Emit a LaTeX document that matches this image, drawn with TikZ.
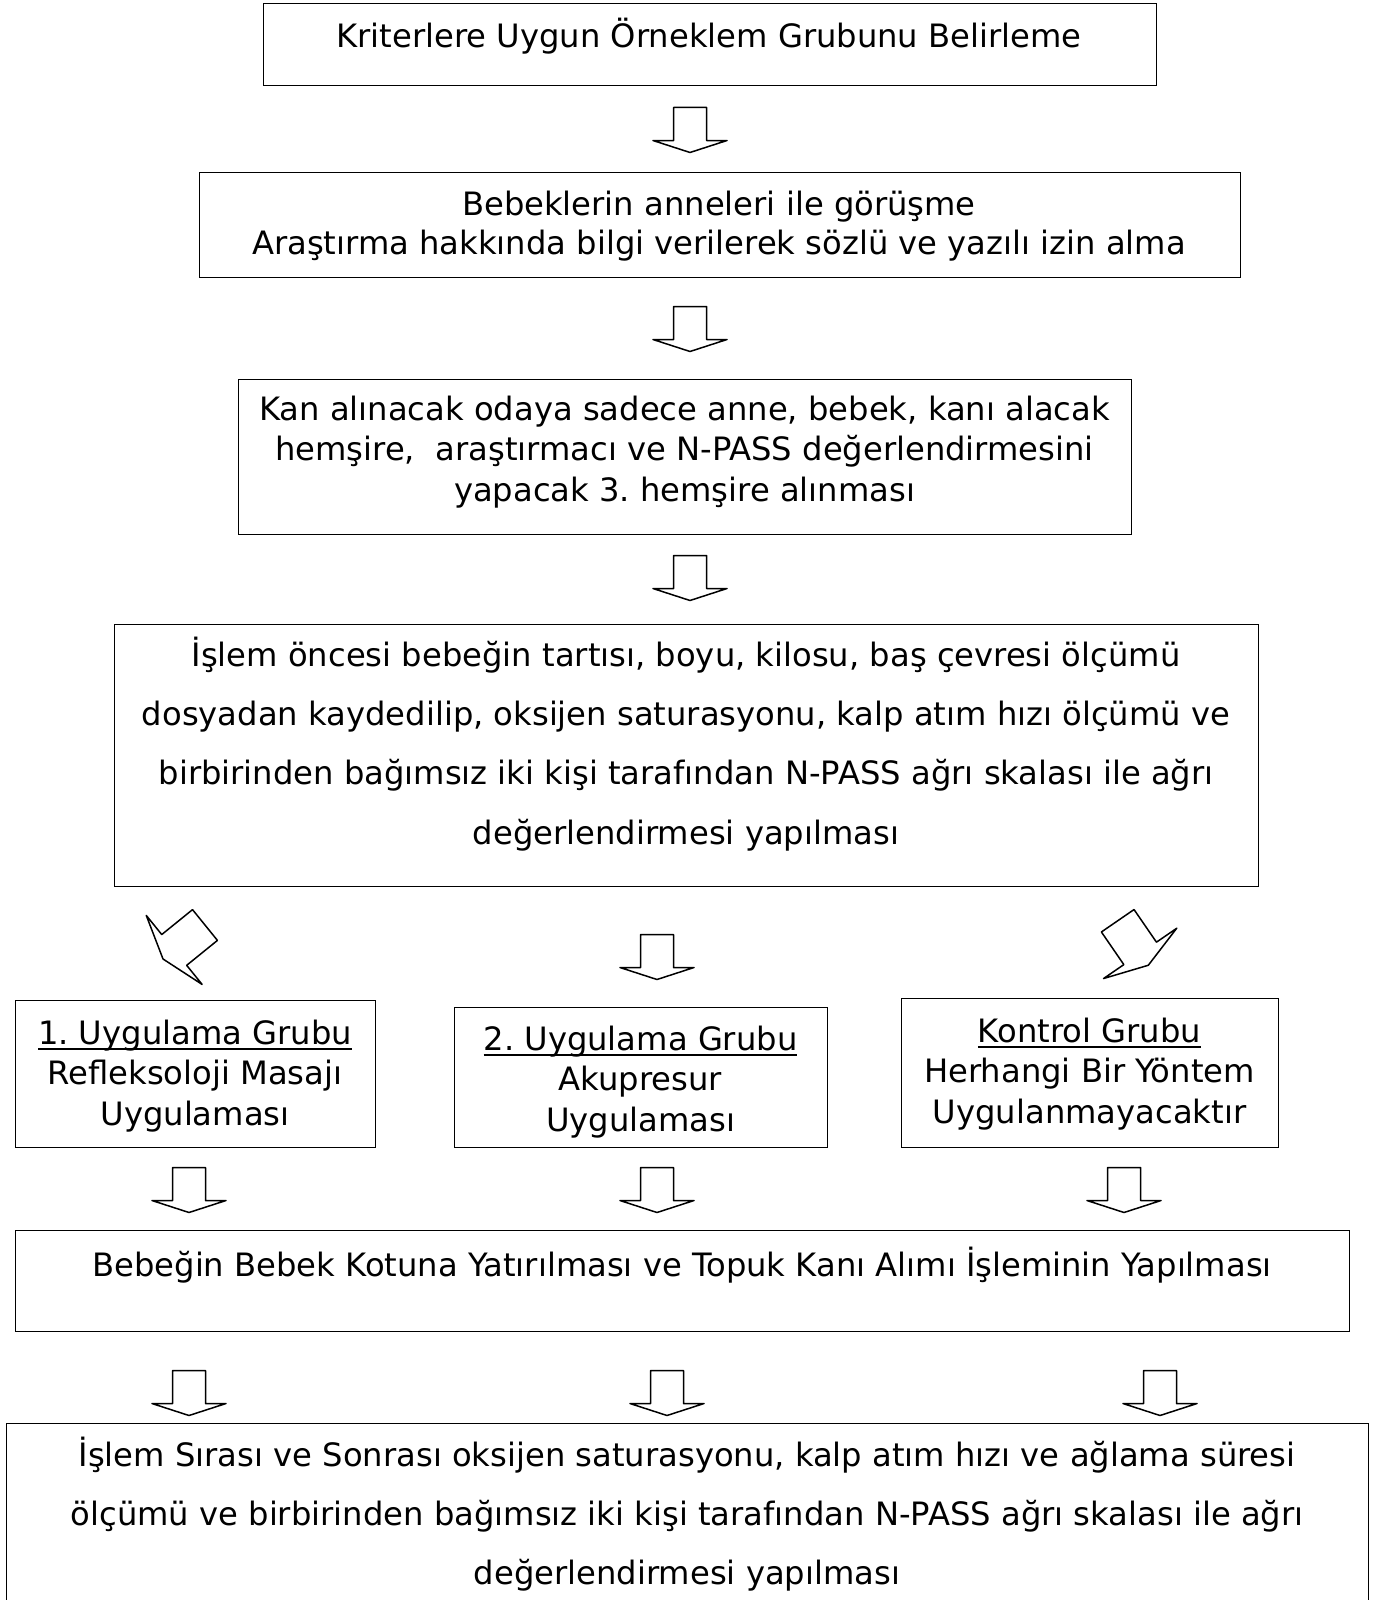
\documentclass[tikz,border=0pt]{standalone}
\usepackage{fontspec}
\setmainfont{DejaVu Sans}
\frenchspacing
\newcommand\ulbox[1]{\setbox0\hbox{#1}\rlap{\rule[-2.6pt]{\wd0}{0.7pt}}\box0}
\begin{document}
\begin{tikzpicture}[x=0.5pt,y=-0.5pt,
  box/.style={draw=black, line width=0.7pt, rectangle, inner sep=0pt, anchor=north west},
  txt/.style={align=center, inner sep=0pt, font=\fontsize{16.1}{20.2}\selectfont},
  wide/.style={align=center, inner sep=0pt, font=\fontsize{16.1}{29.6}\selectfont},
  arrowline/.style={draw=black, line width=0.75pt, line join=round, fill=white},
  blockarrow/.pic={\path[arrowline] (-16.5,-22.5) -- (16.5,-22.5) -- (16.5,10.5) -- (37,10.5) -- (0,22.5) -- (-37,10.5) -- (-16.5,10.5) -- cycle;}]
\useasboundingbox (0,0) rectangle (1379,1600);
\clip (0,0) rectangle (1379,1600);
% boxes
\node[box, minimum width=893*0.5pt, minimum height=82*0.5pt] (b1) at (263,3) {};
\node[box, minimum width=1041*0.5pt, minimum height=105*0.5pt] (b2) at (199,172) {};
\node[box, minimum width=893*0.5pt, minimum height=155*0.5pt] (b3) at (238,379) {};
\node[box, minimum width=1144*0.5pt, minimum height=262*0.5pt] (b4) at (114,624) {};
\node[box, minimum width=360*0.5pt, minimum height=147*0.5pt] (b5) at (15,1000) {};
\node[box, minimum width=373*0.5pt, minimum height=140*0.5pt] (b6) at (454,1007) {};
\node[box, minimum width=377*0.5pt, minimum height=149*0.5pt] (b7) at (901,998) {};
\node[box, minimum width=1334*0.5pt, minimum height=101*0.5pt] (b8) at (15,1230) {};
\node[box, minimum width=1362*0.5pt, minimum height=200*0.5pt] (b9) at (6,1423) {};
% texts
\node[txt] (t1) at (709,36) {Kriterlere Uygun Örneklem Grubunu Belirleme};
\node[txt, font=\fontsize{16.1}{19.4}\selectfont] (t2) at (719,226) {Bebeklerin anneleri ile görüşme\\Araştırma hakkında bilgi verilerek sözlü ve yazılı izin alma};
\node[txt, font=\fontsize{16.1}{20.4}\selectfont] (t3) at (684.5,452) {Kan alınacak odaya sadece anne, bebek, kanı alacak\\hemşire,~ araştırmacı ve N-PASS değerlendirmesini\\yapacak 3. hemşire alınması};
\node[wide] (t4) at (686,744) {İşlem öncesi bebeğin tartısı, boyu, kilosu, baş çevresi ölçümü\\dosyadan kaydedilip, oksijen saturasyonu, kalp atım hızı ölçümü ve\\birbirinden bağımsız iki kişi tarafından N-PASS ağrı skalası ile ağrı\\değerlendirmesi yapılması};
\node[txt] (t5) at (195,1076) {\ulbox{1. Uygulama Grubu}\\Refleksoloji Masajı\\Uygulaması};
\node[txt] (t6) at (640.5,1082) {\ulbox{2. Uygulama Grubu}\\Akupresur\\Uygulaması};
\node[txt] (t7) at (1089.5,1074) {\ulbox{Kontrol Grubu}\\Herhangi Bir Yöntem\\Uygulanmayacaktır};
\node[txt] (t8) at (682,1265) {Bebeğin Bebek Kotuna Yatırılması ve Topuk Kanı Alımı İşleminin Yapılması};
\node[wide] (t9) at (687,1514) {İşlem Sırası ve Sonrası oksijen saturasyonu, kalp atım hızı ve ağlama süresi\\ölçümü ve birbirinden bağımsız iki kişi tarafından N-PASS ağrı skalası ile ağrı\\değerlendirmesi yapılması};
% block arrows
\pic at (690,130) {blockarrow};
\pic at (690,329) {blockarrow};
\pic at (690,578) {blockarrow};
\pic[rotate=-51, scale=1.2] at (184,942) {blockarrow};
\pic at (657,957) {blockarrow};
\pic[rotate=34.5, scale=1.2] at (1133,943) {blockarrow};
\pic at (189,1190) {blockarrow};
\pic at (657,1190) {blockarrow};
\pic at (1124,1190) {blockarrow};
\pic at (189,1393) {blockarrow};
\pic at (667,1393) {blockarrow};
\pic at (1160,1393) {blockarrow};
\end{tikzpicture}
\end{document}
